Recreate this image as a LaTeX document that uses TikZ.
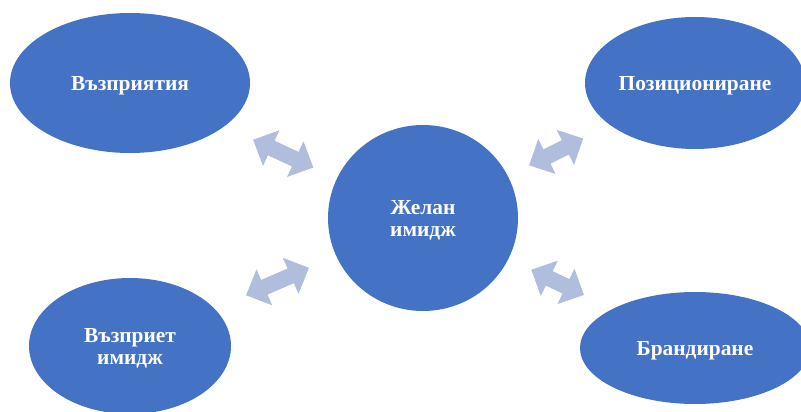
\documentclass[tikz,border=0pt]{standalone}
\usepackage{fontspec}
\setmainfont{Liberation Serif}
\usepackage{tikz}
\usetikzlibrary{shapes.geometric, arrows.meta, positioning, calc}
\definecolor{imgblue}{RGB}{68,114,196}
\definecolor{arrowblue}{RGB}{176,189,221}

\begin{document}
\begin{tikzpicture}[x=1pt, y=-1pt, font=\fontsize{21.4}{22}\selectfont\bfseries]
\tikzstyle{blob} = [ellipse, fill=imgblue, text=white, align=center, inner sep=0pt, text depth=0pt]
\tikzstyle{link} = [draw=arrowblue, line width=16pt, {Triangle[width=38pt, length=20pt]}-{Triangle[width=38pt, length=20pt]}]

\useasboundingbox (0,0) rectangle (801,412);

\node (cen) [blob, minimum width=190pt, minimum height=186pt] at (423,218) {Желан\\имидж};
\node (vazpr) [blob, minimum width=240pt, minimum height=140pt] at (130,83) {Възприятия};
\node (pozic) [blob, minimum width=220pt, minimum height=132pt] at (695,83) {Позициониране};
\node (vazim) [blob, minimum width=202pt, minimum height=136pt] at (130,346) {Възприет\\имидж};
\node (brand) [blob, minimum width=230pt, minimum height=112pt] at (695,348) {Брандиране};

\draw [link] ($(cen)!0.374!(vazpr)$) -- ($(cen)!0.580!(vazpr)$);
\draw [link] ($(cen)!0.390!(pozic)$) -- ($(cen)!0.589!(pozic)$);
\draw [link] ($(cen)!0.389!(vazim)$) -- ($(cen)!0.604!(vazim)$);
\draw [link] ($(cen)!0.398!(brand)$) -- ($(cen)!0.592!(brand)$);
\end{tikzpicture}
\end{document}
